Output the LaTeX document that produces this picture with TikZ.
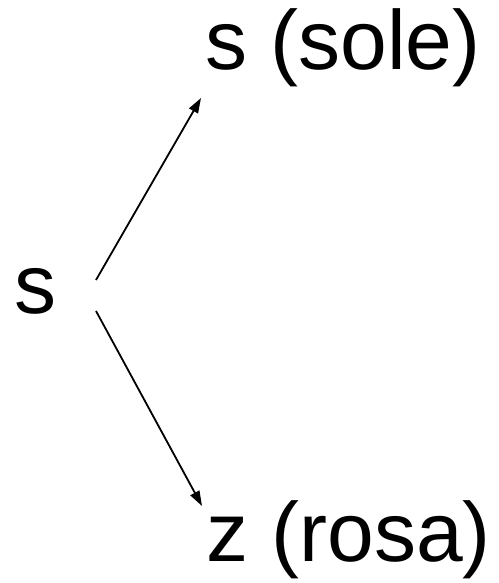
\documentclass[tikz,border=0pt]{standalone}
\usepackage{fontspec}
\setmainfont{Liberation Sans}
\usetikzlibrary{arrows.meta}
\begin{document}
\begin{tikzpicture}[x=1pt,y=1pt,
  lbl/.style={inner sep=0pt, anchor=base west, font=\fontsize{84}{100}\selectfont},
  arr/.style={line width=1.8pt, -{Triangle[length=15pt,width=10pt]}}]
\useasboundingbox (0,0) rectangle (498,583);
\node[lbl] (src) at (14,269) {s};
\node[lbl] (sole) at (205,513) {s (sole)};
\node[lbl] (rosa) at (206,21) {z (rosa)};
\coordinate (u0) at (96,303);
\coordinate (u1) at (201,485);
\coordinate (d0) at (96,272);
\coordinate (d1) at (202,77);
\draw[arr] (u0) -- (u1);
\draw[arr] (d0) -- (d1);
\end{tikzpicture}
\end{document}
